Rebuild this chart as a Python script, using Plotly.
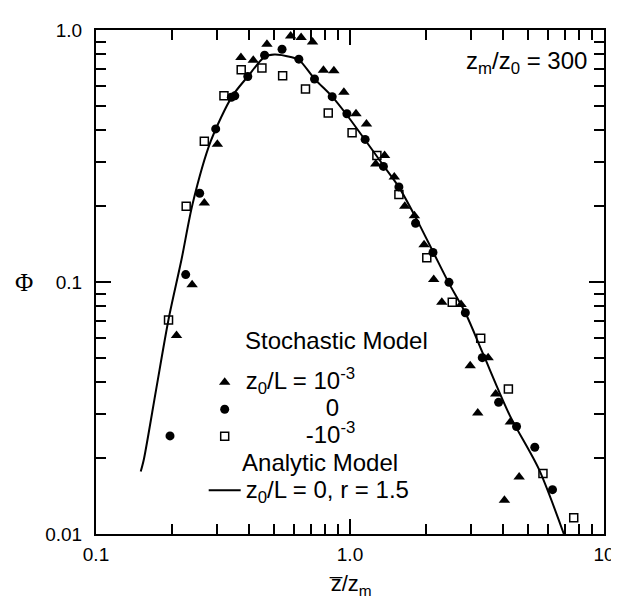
import plotly.graph_objects as go

# ---- data ----
tri_x = [0.2075, 0.239, 0.267, 0.3005, 0.372, 0.416, 0.471, 0.519, 0.584, 0.642, 0.712,
         0.786, 0.864, 0.946, 1.056, 1.161, 1.368, 1.263, 1.494, 1.643, 1.793, 1.957,
         2.136, 2.299, 2.737, 2.973, 3.498, 3.746, 3.184, 4.278, 4.634, 4.055]
tri_y = [0.0614, 0.0976, 0.206, 0.352, 0.777, 0.759, 0.878, 1.06, 0.947, 0.933, 0.897,
         0.693, 0.689, 0.566, 0.465, 0.424, 0.318, 0.294, 0.261, 0.200, 0.183, 0.1406,
         0.1022, 0.0831, 0.0814, 0.0465, 0.0501, 0.0359, 0.0302, 0.0278, 0.01684, 0.01362]

cir_x = [0.1956, 0.2255, 0.256, 0.296, 0.341, 0.352, 0.396, 0.461, 0.540, 0.629, 0.725,
         0.851, 0.972, 1.147, 1.354, 1.558, 1.812, 2.122, 2.453, 2.845, 3.317, 3.846,
         4.525, 5.34, 6.27]
cir_y = [0.0245, 0.107, 0.225, 0.405, 0.541, 0.548, 0.654, 0.794, 0.839, 0.766, 0.639,
         0.544, 0.465, 0.368, 0.2875, 0.2384, 0.171, 0.131, 0.0997, 0.0755, 0.0501, 0.0333,
         0.0267, 0.0221, 0.0150]

sq_x = [0.193, 0.2265, 0.267, 0.319, 0.373, 0.450, 0.543, 0.668, 0.821, 1.019, 1.276,
        1.558, 2.006, 2.527, 3.27, 4.203, 5.75, 7.6]
sq_y = [0.0706, 0.200, 0.362, 0.549, 0.695, 0.706, 0.658, 0.583, 0.468, 0.391, 0.318,
        0.2225, 0.1247, 0.0831, 0.0598, 0.0376, 0.01737, 0.0116]

model_x = [0.150, 0.1545, 0.1726, 0.193, 0.217, 0.240, 0.283, 0.343, 0.396, 0.461,
           0.504, 0.584, 0.629, 0.725, 0.851, 0.972, 1.147, 1.354, 1.558, 1.837,
           2.137, 2.45, 2.845, 3.346, 4.26, 5.53, 6.95]
model_y = [0.0177, 0.0199, 0.0376, 0.071, 0.1225, 0.204, 0.362, 0.544, 0.654, 0.782,
           0.800, 0.782, 0.762, 0.640, 0.544, 0.460, 0.366, 0.290, 0.238, 0.176,
           0.130, 0.099, 0.0755, 0.0517, 0.0295, 0.01816, 0.0100]

x_tickvals = [0.1, 1, 10]
x_ticktext = ["0.1", "1.0", "10"]
y_tickvals = [0.01, 0.1, 1]
y_ticktext = ["0.01", "0.1", "1.0"]
x_minor = [0.2, 0.3, 0.4, 0.5, 0.6, 0.7, 0.8, 0.9, 2, 3, 4, 5, 6, 7, 8, 9]
y_minor = [0.02, 0.03, 0.04, 0.05, 0.06, 0.07, 0.08, 0.09,
           0.2, 0.3, 0.4, 0.5, 0.6, 0.7, 0.8, 0.9]

FONT = "Liberation Sans, Arial, Helvetica, sans-serif"
NB = "\u00a0"


def big(s):
    return "<span style='font-size:24px'>" + s + "</span>"


fig = go.Figure()
fig.add_trace(go.Scatter(
    x=tri_x, y=tri_y, mode="markers", cliponaxis=False,
    marker=dict(symbol="triangle-up", size=10, color="black"),
    name=big("z<sub>0</sub>/L = 10<sup>-3</sup>"), legendgroup="stoch"))
fig.add_trace(go.Scatter(
    x=cir_x, y=cir_y, mode="markers", cliponaxis=False,
    marker=dict(symbol="circle", size=9, color="black"),
    name=big(NB * 12 + "0"), legendgroup="stoch"))
fig.add_trace(go.Scatter(
    x=sq_x, y=sq_y, mode="markers", cliponaxis=False,
    marker=dict(symbol="square-open", size=8, color="black", line=dict(width=1.5)),
    name=big(NB * 9 + "-10<sup>-3</sup>"), legendgroup="stoch"))
fig.add_trace(go.Scatter(
    x=model_x, y=model_y, mode="lines",
    line=dict(color="black", width=2, shape="spline", smoothing=0.8),
    name=big("z<sub>0</sub>/L = 0, r = 1.5"),
    legendgroup="analytic",
    legendgrouptitle=dict(text=big(NB * 5 + "Analytic Model"))))

axis_common = dict(
    type="log", showgrid=False, zeroline=False,
    showline=True, linecolor="black", linewidth=2, mirror="allticks",
    ticks="inside", ticklen=15, tickwidth=1.5, tickcolor="black",
    tickfont=dict(family=FONT, size=19, color="black"),
)

fig.update_xaxes(**axis_common, range=[-1, 1], tickmode="array",
                 tickvals=x_tickvals, ticktext=x_ticktext, ticklabelstandoff=2,
                 minor=dict(ticks="inside", ticklen=10, tickwidth=1.5,
                            tickcolor="black", tickvals=x_minor, showgrid=False))
fig.update_yaxes(**axis_common, range=[-2, 0], tickmode="array",
                 tickvals=y_tickvals, ticktext=y_ticktext, ticklabelstandoff=8,
                 minor=dict(ticks="inside", ticklen=10, tickwidth=1.5,
                            tickcolor="black", tickvals=y_minor, showgrid=False))

fig.update_layout(
    width=619, height=599,
    margin=dict(l=88, r=12, t=19, b=73),
    paper_bgcolor="white", plot_bgcolor="white",
    font=dict(family=FONT, size=22, color="black"),
    showlegend=True,
    legend=dict(x=0.212, y=0.338, xanchor="left", yanchor="top",
                bgcolor="rgba(0,0,0,0)", borderwidth=0,
                font=dict(family=FONT, size=18.5, color="black"),
                grouptitlefont=dict(family=FONT, size=18.5, color="black"),
                tracegroupgap=0, traceorder="grouped", itemwidth=32),
    annotations=[
        dict(text="Stochastic Model", xref="paper", yref="paper",
             x=0.289, y=0.384, xanchor="left", yanchor="middle", showarrow=False,
             font=dict(family=FONT, size=24, color="black")),
        dict(text="z<sub>m</sub>/z<sub>0</sub> = 300", xref="paper", yref="paper",
             x=0.971, y=0.935, xanchor="right", yanchor="middle", showarrow=False,
             font=dict(family=FONT, size=24, color="black")),
        dict(text="\u03a6", xref="paper", yref="paper", x=-0.142, y=0.5,
             xanchor="center", yanchor="middle", showarrow=False,
             font=dict(family="Liberation Serif, Times New Roman, serif", size=25,
                       color="black")),
        dict(text="z\u0305/z<sub>m</sub>", xref="paper", yref="paper", x=0.5, y=-0.102,
             xanchor="center", yanchor="middle", showarrow=False,
             font=dict(family=FONT, size=22, color="black")),
    ],
)

fig.write_html("out.html")
